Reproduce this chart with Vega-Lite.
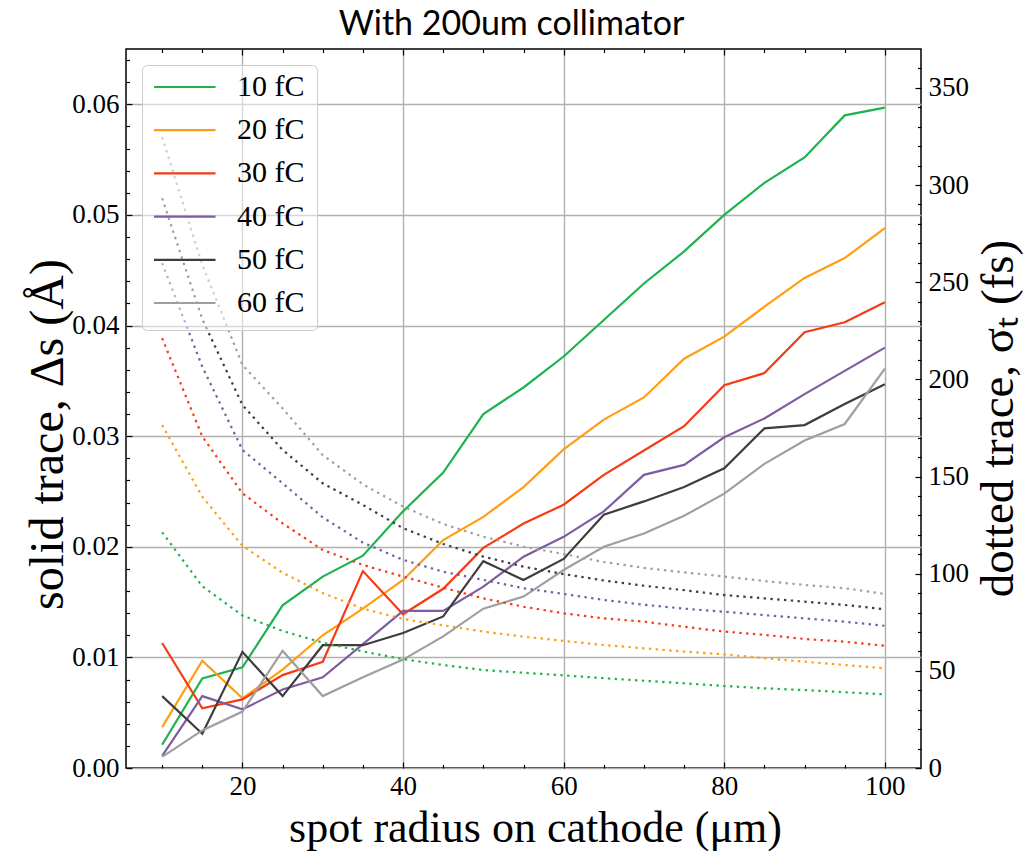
{
  "$schema": "https://vega.github.io/schema/vega-lite/v6.json",
  "autosize": "none",
  "width": 795,
  "height": 719,
  "padding": {"left": 126, "top": 49, "right": 103, "bottom": 83},
  "background": "white",
  "config": {"view": {"stroke": "black", "strokeWidth": 1.5}, "font": "Liberation Serif"},
  "data": {"values": [
    {"q":"10 fC","r":10,"ds":0.0021,"st":121.3},{"q":"10 fC","r":15,"ds":0.0081,"st":93.5},{"q":"10 fC","r":20,"ds":0.0091,"st":78.5},{"q":"10 fC","r":25,"ds":0.0147,"st":70.5},{"q":"10 fC","r":30,"ds":0.0173,"st":64.5},{"q":"10 fC","r":35,"ds":0.0192,"st":60},{"q":"10 fC","r":40,"ds":0.0232,"st":56},{"q":"10 fC","r":45,"ds":0.0267,"st":53},{"q":"10 fC","r":50,"ds":0.032,"st":50.4},{"q":"10 fC","r":55,"ds":0.0344,"st":49},{"q":"10 fC","r":60,"ds":0.0372,"st":47.7},{"q":"10 fC","r":65,"ds":0.0405,"st":46.2},{"q":"10 fC","r":70,"ds":0.0438,"st":44.9},{"q":"10 fC","r":75,"ds":0.0467,"st":43.6},{"q":"10 fC","r":80,"ds":0.05,"st":42.2},{"q":"10 fC","r":85,"ds":0.0529,"st":41},{"q":"10 fC","r":90,"ds":0.0552,"st":40.1},{"q":"10 fC","r":95,"ds":0.059,"st":39},{"q":"10 fC","r":100,"ds":0.0597,"st":37.9},
    {"q":"20 fC","r":10,"ds":0.0037,"st":176.5},{"q":"20 fC","r":15,"ds":0.0097,"st":139.6},{"q":"20 fC","r":20,"ds":0.0063,"st":114.3},{"q":"20 fC","r":25,"ds":0.0089,"st":100.5},{"q":"20 fC","r":30,"ds":0.012,"st":90},{"q":"20 fC","r":35,"ds":0.0144,"st":82},{"q":"20 fC","r":40,"ds":0.017,"st":76.7},{"q":"20 fC","r":45,"ds":0.0206,"st":73.4},{"q":"20 fC","r":50,"ds":0.0227,"st":70.2},{"q":"20 fC","r":55,"ds":0.0254,"st":67.6},{"q":"20 fC","r":60,"ds":0.0288,"st":65.4},{"q":"20 fC","r":65,"ds":0.0315,"st":63.3},{"q":"20 fC","r":70,"ds":0.0335,"st":61.6},{"q":"20 fC","r":75,"ds":0.037,"st":59.9},{"q":"20 fC","r":80,"ds":0.039,"st":58.5},{"q":"20 fC","r":85,"ds":0.0417,"st":56.5},{"q":"20 fC","r":90,"ds":0.0443,"st":54.7},{"q":"20 fC","r":95,"ds":0.0461,"st":53},{"q":"20 fC","r":100,"ds":0.0488,"st":51.3},
    {"q":"30 fC","r":10,"ds":0.0113,"st":221.2},{"q":"30 fC","r":15,"ds":0.0054,"st":170.6},{"q":"30 fC","r":20,"ds":0.0062,"st":141.4},{"q":"30 fC","r":25,"ds":0.0084,"st":125.9},{"q":"30 fC","r":30,"ds":0.0096,"st":112.2},{"q":"30 fC","r":35,"ds":0.0178,"st":104.5},{"q":"30 fC","r":40,"ds":0.0139,"st":98.5},{"q":"30 fC","r":45,"ds":0.0162,"st":92.8},{"q":"30 fC","r":50,"ds":0.0199,"st":87.3},{"q":"30 fC","r":55,"ds":0.0221,"st":83},{"q":"30 fC","r":60,"ds":0.0238,"st":79.6},{"q":"30 fC","r":65,"ds":0.0265,"st":77},{"q":"30 fC","r":70,"ds":0.0287,"st":75.3},{"q":"30 fC","r":75,"ds":0.0309,"st":72.7},{"q":"30 fC","r":80,"ds":0.0346,"st":70.2},{"q":"30 fC","r":85,"ds":0.0357,"st":68.5},{"q":"30 fC","r":90,"ds":0.0394,"st":66.4},{"q":"30 fC","r":95,"ds":0.0403,"st":65},{"q":"30 fC","r":100,"ds":0.0421,"st":62.9},
    {"q":"40 fC","r":10,"ds":0.0011,"st":259.8},{"q":"40 fC","r":15,"ds":0.0065,"st":206.5},{"q":"40 fC","r":20,"ds":0.0053,"st":163.7},{"q":"40 fC","r":25,"ds":0.0071,"st":146.5},{"q":"40 fC","r":30,"ds":0.0082,"st":129},{"q":"40 fC","r":35,"ds":0.0112,"st":116},{"q":"40 fC","r":40,"ds":0.0142,"st":107.1},{"q":"40 fC","r":45,"ds":0.0142,"st":101},{"q":"40 fC","r":50,"ds":0.0164,"st":96.8},{"q":"40 fC","r":55,"ds":0.0191,"st":92.5},{"q":"40 fC","r":60,"ds":0.0209,"st":89.6},{"q":"40 fC","r":65,"ds":0.0232,"st":86.5},{"q":"40 fC","r":70,"ds":0.0265,"st":84},{"q":"40 fC","r":75,"ds":0.0274,"st":82},{"q":"40 fC","r":80,"ds":0.0299,"st":80.4},{"q":"40 fC","r":85,"ds":0.0316,"st":78.7},{"q":"40 fC","r":90,"ds":0.0338,"st":77},{"q":"40 fC","r":95,"ds":0.0359,"st":75.3},{"q":"40 fC","r":100,"ds":0.038,"st":73.2},
    {"q":"50 fC","r":10,"ds":0.0065,"st":293.2},{"q":"50 fC","r":15,"ds":0.0031,"st":231},{"q":"50 fC","r":20,"ds":0.0105,"st":186.8},{"q":"50 fC","r":25,"ds":0.0065,"st":163.7},{"q":"50 fC","r":30,"ds":0.0111,"st":146.5},{"q":"50 fC","r":35,"ds":0.0111,"st":135.4},{"q":"50 fC","r":40,"ds":0.0122,"st":123.4},{"q":"50 fC","r":45,"ds":0.0137,"st":115.3},{"q":"50 fC","r":50,"ds":0.0187,"st":108.8},{"q":"50 fC","r":55,"ds":0.017,"st":103.6},{"q":"50 fC","r":60,"ds":0.0189,"st":99.8},{"q":"50 fC","r":65,"ds":0.0229,"st":96.5},{"q":"50 fC","r":70,"ds":0.0241,"st":93.8},{"q":"50 fC","r":75,"ds":0.0254,"st":91.5},{"q":"50 fC","r":80,"ds":0.0271,"st":89},{"q":"50 fC","r":85,"ds":0.0307,"st":87.3},{"q":"50 fC","r":90,"ds":0.031,"st":85.6},{"q":"50 fC","r":95,"ds":0.0329,"st":83.9},{"q":"50 fC","r":100,"ds":0.0347,"st":81.7},
    {"q":"60 fC","r":10,"ds":0.001,"st":324.6},{"q":"60 fC","r":15,"ds":0.0034,"st":258.9},{"q":"60 fC","r":20,"ds":0.0051,"st":207.4},{"q":"60 fC","r":25,"ds":0.0106,"st":185.1},{"q":"60 fC","r":30,"ds":0.0065,"st":161},{"q":"60 fC","r":35,"ds":0.0082,"st":146},{"q":"60 fC","r":40,"ds":0.0098,"st":134.5},{"q":"60 fC","r":45,"ds":0.0119,"st":125.6},{"q":"60 fC","r":50,"ds":0.0144,"st":119},{"q":"60 fC","r":55,"ds":0.0155,"st":113.9},{"q":"60 fC","r":60,"ds":0.0179,"st":110.1},{"q":"60 fC","r":65,"ds":0.02,"st":106},{"q":"60 fC","r":70,"ds":0.0212,"st":103},{"q":"60 fC","r":75,"ds":0.0228,"st":100.7},{"q":"60 fC","r":80,"ds":0.0248,"st":98.5},{"q":"60 fC","r":85,"ds":0.0275,"st":96.2},{"q":"60 fC","r":90,"ds":0.0296,"st":94.2},{"q":"60 fC","r":95,"ds":0.0311,"st":92.5},{"q":"60 fC","r":100,"ds":0.0361,"st":89.6}
  ]},
  "resolve": {"scale": {"y": "independent"}, "axis": {"x": "independent"}},
  "layer": [
    {
      "mark": {"type": "line", "strokeWidth": 2.2},
      "encoding": {
        "x": {"field": "r", "type": "quantitative", "scale": {"domain": [5.5, 104.5], "nice": false, "zero": false},
          "axis": {"orient": "bottom", "values": [10,15,20,25,30,35,40,45,50,55,60,65,70,75,80,85,90,95,100],
            "labelExpr": "datum.value % 20 === 0 ? datum.label : ''",
            "tickSize": {"condition": {"test": "datum.value % 20 === 0", "value": -6}, "value": -3.5},
            "grid": true, "gridColor": "#b0b0b0", "gridWidth": 1.4,
            "gridOpacity": {"condition": {"test": "datum.value % 20 === 0", "value": 1}, "value": 0},
            "domain": false, "tickColor": "black", "tickWidth": 1.2, "labelFontSize": 27, "labelPadding": 11, "labelColor": "black", "labelFont": "Liberation Serif", "labelOverlap": false, "labelFlush": false,
            "title": "spot radius on cathode (μm)", "titleFont": "Liberation Serif", "titleFontSize": 44, "titleFontWeight": "normal", "titleColor": "black", "titleX": 409, "titleY": 73, "titleBaseline": "alphabetic", "titleAlign": "center"}},
        "y": {"field": "ds", "type": "quantitative", "scale": {"domain": [0, 0.065], "nice": false, "zero": false},
          "axis": {"orient": "left", "values": [0,0.002,0.004,0.006,0.008,0.01,0.012,0.014,0.016,0.018,0.02,0.022,0.024,0.026,0.028,0.03,0.032,0.034,0.036,0.038,0.04,0.042,0.044,0.046,0.048,0.05,0.052,0.054,0.056,0.058,0.06,0.062,0.064],
            "labelExpr": "round(datum.value*1000) % 10 === 0 ? format(datum.value, '.2f') : ''",
            "tickSize": {"condition": {"test": "round(datum.value*1000) % 10 === 0", "value": -6}, "value": -3.5},
            "grid": true, "gridColor": "#b0b0b0", "gridWidth": 1.4,
            "gridOpacity": {"condition": {"test": "round(datum.value*1000) % 10 === 0", "value": 1}, "value": 0},
            "domain": false, "tickColor": "black", "tickWidth": 1.2, "labelFontSize": 27, "labelPadding": 13, "labelColor": "black", "labelFont": "Liberation Serif", "labelOverlap": false, "labelFlush": false,
            "title": "solid trace, Δs (Å)", "titleFont": "Liberation Serif", "titleFontSize": 48, "titleFontWeight": "normal", "titleColor": "black", "titleAngle": -90, "titleX": -78, "titleY": 385, "titleBaseline": "middle", "titleAlign": "center"}},
        "color": {"field": "q", "type": "nominal",
          "scale": {"domain": ["10 fC","20 fC","30 fC","40 fC","50 fC","60 fC"], "range": ["#1db34d","#ff9e10","#f43b14","#7f5ca2","#3d3d3d","#9f9f9f"]},
          "legend": {"orient": "none", "legendX": 16, "legendY": 16, "title": null,
            "symbolType": "stroke", "symbolSize": 3969, "symbolStrokeWidth": 2.2, "symbolOffset": -3,
            "clipHeight": 20, "rowPadding": 13.2, "padding": 12,
            "labelFont": "Liberation Serif", "labelFontSize": 30, "labelColor": "black", "labelOffset": 20,
            "fillColor": "rgba(255,255,255,0.5)", "strokeColor": "#cccccc", "cornerRadius": 5}}
      }
    },
    {
      "mark": {"type": "line", "strokeWidth": 2.2, "strokeDash": [2.4, 4.4]},
      "encoding": {
        "x": {"field": "r", "type": "quantitative",
          "axis": {"orient": "top", "values": [10,15,20,25,30,35,40,45,50,55,60,65,70,75,80,85,90,95,100],
            "labels": false, "grid": false, "domain": false,
            "title": "With 200um collimator", "titleFont": "Lato", "titleFontSize": 34, "titleFontWeight": "normal", "titleColor": "black", "titleX": 385, "titleY": -15, "titleBaseline": "alphabetic", "titleAlign": "center",
            "tickSize": {"condition": {"test": "datum.value % 20 === 0", "value": -6}, "value": -3.5},
            "tickColor": "black", "tickWidth": 1.2}},
        "y": {"field": "st", "type": "quantitative", "scale": {"domain": [0, 370], "nice": false, "zero": false},
          "axis": {"orient": "right", "values": [0,10,20,30,40,50,60,70,80,90,100,110,120,130,140,150,160,170,180,190,200,210,220,230,240,250,260,270,280,290,300,310,320,330,340,350,360],
            "labelExpr": "datum.value % 50 === 0 ? datum.label : ''",
            "tickSize": {"condition": {"test": "datum.value % 50 === 0", "value": -6}, "value": -3.5},
            "grid": false, "domain": false, "tickColor": "black", "tickWidth": 1.2, "labelFontSize": 27, "labelPadding": 13, "labelColor": "black", "labelFont": "Liberation Serif", "labelOverlap": false, "labelFlush": false,
            "title": "dotted trace, σₜ (fs)", "titleFont": "Liberation Serif", "titleFontSize": 47, "titleFontWeight": "normal", "titleColor": "black", "titleAngle": -90, "titleX": 77, "titleY": 369, "titleBaseline": "middle", "titleAlign": "center"}},
        "color": {"field": "q", "type": "nominal", "legend": null}
      }
    }
  ]
}
